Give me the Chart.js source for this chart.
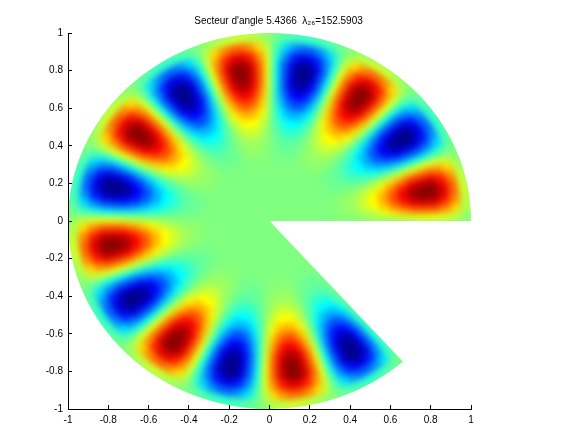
<!DOCTYPE html>
<html>
<head>
<meta charset="utf-8">
<style>
  html, body { margin: 0; padding: 0; background: #fff; }
  #wrap { position: absolute; left: 0; top: 0; width: 576px; height: 432px; }
</style>
<script src="https://cdn.jsdelivr.net/npm/chart.js@4/dist/chart.umd.min.js"></script>
</head>
<body>
<div id="wrap"><canvas id="sector" width="576" height="432"></canvas></div>
<script>
const sectorAngle = 5.4366;
const titleText = "Secteur d'angle 5.4366  λ₂₆=152.5903";
const tickValues = [-1, -0.8, -0.6, -0.4, -0.2, 0, 0.2, 0.4, 0.6, 0.8, 1];
const tickLabels = ['-1', '-0.8', '-0.6', '-0.4', '-0.2', '0', '0.2', '0.4', '0.6', '0.8', '1'];

// ring limits in radius, one more than there are rings
const ringEdges = [0, 0.3, 0.35, 0.4, 0.45, 0.5, 0.55, 0.6, 0.65, 0.7, 0.75, 0.8, 0.85, 0.9, 0.95, 1];

// values, in % of the peak, going round the sector from angle 0
const ringCore = [0,0,0,0,0,0,0,0,0,0,0,0,0,0,0,0,0,0,0,0,0,0,0,0,0,0,0,0];
const ring325 = [1,1,-1,-1,1,1,-1,-1,1,1,-1,-1,1,1,-1,-1,1,1,-1,-1,1,1,-1,-1,1,1,-1,-1];
const ring375 = [2,4,4,2,-2,-4,-4,-2,2,4,4,2,-2,-4,-4,-2,2,4,4,2,-2,-4,-4,-2,2,4,4,2,-2,-4,-4,-2,2,4,4,2,-2,-4,-4,-2,2,4,4,2,-2,-4,-4,-2,2,4,4,2,-2,-4,-4,-2];
const ring425 = [3,7,7,3,-3,-7,-7,-3,3,7,7,3,-3,-7,-7,-3,3,7,7,3,-3,-7,-7,-3,3,7,7,3,-3,-7,-7,-3,3,7,7,3,-3,-7,-7,-3,3,7,7,3,-3,-7,-7,-3,3,7,7,3,-3,-7,-7,-3];
const ring475 = [6,15,15,6,-6,-15,-15,-6,6,15,15,6,-6,-15,-15,-6,6,15,15,6,-6,-15,-15,-6,6,15,15,6,-6,-15,-15,-6,6,15,15,6,-6,-15,-15,-6,6,15,15,6,-6,-15,-15,-6,6,15,15,6,-6,-15,-15,-6];
const ring525 = [10,25,25,10,-10,-25,-25,-10,10,25,25,10,-10,-25,-25,-10,10,25,25,10,-10,-25,-25,-10,10,25,25,10,-10,-25,-25,-10,10,25,25,10,-10,-25,-25,-10,10,25,25,10,-10,-25,-25,-10,10,25,25,10,-10,-25,-25,-10];
const ring575 = [
  8,24,35,41,41,35,24,8,-8,-24,-35,-41,-41,-35,-24,-8,8,24,35,41,41,35,24,8,-8,-24,-35,-41,-41,-35,-24,-8,
  8,24,35,41,41,35,24,8,-8,-24,-35,-41,-41,-35,-24,-8,8,24,35,41,41,35,24,8,-8,-24,-35,-41,-41,-35,-24,-8,
  8,24,35,41,41,35,24,8,-8,-24,-35,-41,-41,-35,-24,-8,8,24,35,41,41,35,24,8,-8,-24,-35,-41,-41,-35,-24,-8,
  8,24,35,41,41,35,24,8,-8,-24,-35,-41,-41,-35,-24,-8];
const ring625 = [
  12,34,51,60,60,51,34,12,-12,-34,-51,-60,-60,-51,-34,-12,12,34,51,60,60,51,34,12,-12,-34,-51,-60,-60,-51,-34,-12,
  12,34,51,60,60,51,34,12,-12,-34,-51,-60,-60,-51,-34,-12,12,34,51,60,60,51,34,12,-12,-34,-51,-60,-60,-51,-34,-12,
  12,34,51,60,60,51,34,12,-12,-34,-51,-60,-60,-51,-34,-12,12,34,51,60,60,51,34,12,-12,-34,-51,-60,-60,-51,-34,-12,
  12,34,51,60,60,51,34,12,-12,-34,-51,-60,-60,-51,-34,-12];
const ring675 = [
  15,44,66,77,77,66,44,15,-15,-44,-66,-77,-77,-66,-44,-15,15,44,66,77,77,66,44,15,-15,-44,-66,-77,-77,-66,-44,-15,
  15,44,66,77,77,66,44,15,-15,-44,-66,-77,-77,-66,-44,-15,15,44,66,77,77,66,44,15,-15,-44,-66,-77,-77,-66,-44,-15,
  15,44,66,77,77,66,44,15,-15,-44,-66,-77,-77,-66,-44,-15,15,44,66,77,77,66,44,15,-15,-44,-66,-77,-77,-66,-44,-15,
  15,44,66,77,77,66,44,15,-15,-44,-66,-77,-77,-66,-44,-15];
const ring725 = [
  18,53,78,92,92,78,53,18,-18,-53,-78,-92,-92,-78,-53,-18,18,53,78,92,92,78,53,18,-18,-53,-78,-92,-92,-78,-53,-18,
  18,53,78,92,92,78,53,18,-18,-53,-78,-92,-92,-78,-53,-18,18,53,78,92,92,78,53,18,-18,-53,-78,-92,-92,-78,-53,-18,
  18,53,78,92,92,78,53,18,-18,-53,-78,-92,-92,-78,-53,-18,18,53,78,92,92,78,53,18,-18,-53,-78,-92,-92,-78,-53,-18,
  18,53,78,92,92,78,53,18,-18,-53,-78,-92,-92,-78,-53,-18];
const ring775 = [
  20,56,83,98,98,83,56,20,-20,-56,-83,-98,-98,-83,-56,-20,20,56,83,98,98,83,56,20,-20,-56,-83,-98,-98,-83,-56,-20,
  20,56,83,98,98,83,56,20,-20,-56,-83,-98,-98,-83,-56,-20,20,56,83,98,98,83,56,20,-20,-56,-83,-98,-98,-83,-56,-20,
  20,56,83,98,98,83,56,20,-20,-56,-83,-98,-98,-83,-56,-20,20,56,83,98,98,83,56,20,-20,-56,-83,-98,-98,-83,-56,-20,
  20,56,83,98,98,83,56,20,-20,-56,-83,-98,-98,-83,-56,-20];
const ring825 = [
  20,56,83,97,97,83,56,20,-20,-56,-83,-97,-97,-83,-56,-20,20,56,83,97,97,83,56,20,-20,-56,-83,-97,-97,-83,-56,-20,
  20,56,83,97,97,83,56,20,-20,-56,-83,-97,-97,-83,-56,-20,20,56,83,97,97,83,56,20,-20,-56,-83,-97,-97,-83,-56,-20,
  20,56,83,97,97,83,56,20,-20,-56,-83,-97,-97,-83,-56,-20,20,56,83,97,97,83,56,20,-20,-56,-83,-97,-97,-83,-56,-20,
  20,56,83,97,97,83,56,20,-20,-56,-83,-97,-97,-83,-56,-20];
const ring875 = [
  17,47,69,81,81,69,47,17,-17,-47,-69,-81,-81,-69,-47,-17,17,47,69,81,81,69,47,17,-17,-47,-69,-81,-81,-69,-47,-17,
  17,47,69,81,81,69,47,17,-17,-47,-69,-81,-81,-69,-47,-17,17,47,69,81,81,69,47,17,-17,-47,-69,-81,-81,-69,-47,-17,
  17,47,69,81,81,69,47,17,-17,-47,-69,-81,-81,-69,-47,-17,17,47,69,81,81,69,47,17,-17,-47,-69,-81,-81,-69,-47,-17,
  17,47,69,81,81,69,47,17,-17,-47,-69,-81,-81,-69,-47,-17];
const ring925 = [
  11,32,47,56,56,47,32,11,-11,-32,-47,-56,-56,-47,-32,-11,11,32,47,56,56,47,32,11,-11,-32,-47,-56,-56,-47,-32,-11,
  11,32,47,56,56,47,32,11,-11,-32,-47,-56,-56,-47,-32,-11,11,32,47,56,56,47,32,11,-11,-32,-47,-56,-56,-47,-32,-11,
  11,32,47,56,56,47,32,11,-11,-32,-47,-56,-56,-47,-32,-11,11,32,47,56,56,47,32,11,-11,-32,-47,-56,-56,-47,-32,-11,
  11,32,47,56,56,47,32,11,-11,-32,-47,-56,-56,-47,-32,-11];
const ring975 = [
  3,9,13,16,16,13,9,3,-3,-9,-13,-16,-16,-13,-9,-3,3,9,13,16,16,13,9,3,-3,-9,-13,-16,-16,-13,-9,-3,
  3,9,13,16,16,13,9,3,-3,-9,-13,-16,-16,-13,-9,-3,3,9,13,16,16,13,9,3,-3,-9,-13,-16,-16,-13,-9,-3,
  3,9,13,16,16,13,9,3,-3,-9,-13,-16,-16,-13,-9,-3,3,9,13,16,16,13,9,3,-3,-9,-13,-16,-16,-13,-9,-3,
  3,9,13,16,16,13,9,3,-3,-9,-13,-16,-16,-13,-9,-3];
const rings = [ringCore, ring325, ring375, ring425, ring475, ring525, ring575, ring625, ring675, ring725, ring775, ring825, ring875, ring925, ring975];

// matlab jet colormap, v goes from -100 to 100
function jet(v) {
    const f = (v + 100) / 200;
    const c = d => Math.round(255 * Math.min(1, Math.max(0, 1.5 - Math.abs(4 * f - d))));
    return `rgb(${c(3)},${c(2)},${c(1)})`;
}

function polar(r, a) {
    return { x: r * Math.cos(a), y: r * Math.sin(a) };
}

// one filled polygon per cell
const datasets = [];
rings.forEach((ring, i) => {
    const step = sectorAngle / ring.length;
    ring.forEach((v, j) => {
        const a0 = j * step;
        const a1 = (j + 1) * step;
        const r0 = ringEdges[i];
        const r1 = ringEdges[i + 1];
        datasets.push({
            data: [polar(r0, a0), polar(r1, a0), polar(r1, a1), polar(r0, a1)],
            showLine: true,
            fill: 'shape',
            backgroundColor: jet(v),
            borderColor: jet(v),
            borderWidth: 1,
            pointRadius: 0,
            tension: 0
        });
    });
});

// interpolated shading: soften the cells, then cut back to the sector outline
const shading = {
    id: 'shading',
    afterLayout(chart) {
        // the title sits a bit right of the axes centre in the original
        chart.titleBlock.left += 18;
    },
    beforeDatasetsDraw(chart) {
        const { ctx, chartArea: area } = chart;
        ctx.save();
        ctx.fillStyle = jet(0);
        ctx.fillRect(area.left, area.top, area.width, area.height);
        ctx.restore();
    },
    afterDatasetsDraw(chart) {
        const { ctx, chartArea: area, scales } = chart;
        const cx = scales.x.getPixelForValue(0);
        const cy = scales.y.getPixelForValue(0);
        const rx = scales.x.getPixelForValue(1) - cx;
        const ry = cy - scales.y.getPixelForValue(1);

        ctx.save();
        ctx.beginPath();
        ctx.rect(area.left, area.top, area.width, area.height);
        ctx.clip();
        ctx.filter = 'blur(3px)';
        ctx.drawImage(chart.canvas, 0, 0);
        ctx.filter = 'none';

        ctx.beginPath();
        ctx.rect(area.left - 1, area.top - 1, area.width + 2, area.height + 2);
        ctx.moveTo(cx, cy);
        ctx.ellipse(cx, cy, rx, ry, 0, 0, -sectorAngle, true);
        ctx.closePath();
        ctx.fillStyle = '#fff';
        ctx.fill('evenodd');
        ctx.restore();
    }
};

function axisOptions(fit) {
    return {
        type: 'linear',
        min: -1,
        max: 1,
        afterBuildTicks: scale => { scale.ticks = tickValues.map(value => ({ value })); },
        afterFit: fit,
        grid: { display: true, drawOnChartArea: false, drawTicks: true, tickLength: -4, tickColor: '#000', z: 1 },
        border: { display: true, color: '#000', width: 1, z: 1 },
        ticks: {
            color: '#000',
            font: { family: '"Liberation Sans", Arial, sans-serif', size: 10 },
            autoSkip: false,
            maxRotation: 0,
            padding: 9,
            z: 1,
            callback: (value, index) => tickLabels[index]
        }
    };
}

new Chart(document.getElementById('sector').getContext('2d'), {
    type: 'scatter',
    data: { datasets },
    plugins: [shading],
    options: {
        responsive: false,
        animation: false,
        events: [],
        layout: { padding: { top: 0, right: 105, bottom: 0, left: 0 } },
        plugins: {
            legend: { display: false },
            tooltip: { enabled: false },
            title: {
                display: true,
                text: titleText,
                fullSize: false,
                color: '#000',
                font: { family: '"Liberation Sans", Arial, sans-serif', size: 10, weight: 'normal' },
                padding: { top: 15, bottom: 6 }
            }
        },
        scales: {
            x: axisOptions(s => { s.height = 23; }),
            y: axisOptions(s => { s.width = 68; })
        }
    }
});
</script>
</body>
</html>
